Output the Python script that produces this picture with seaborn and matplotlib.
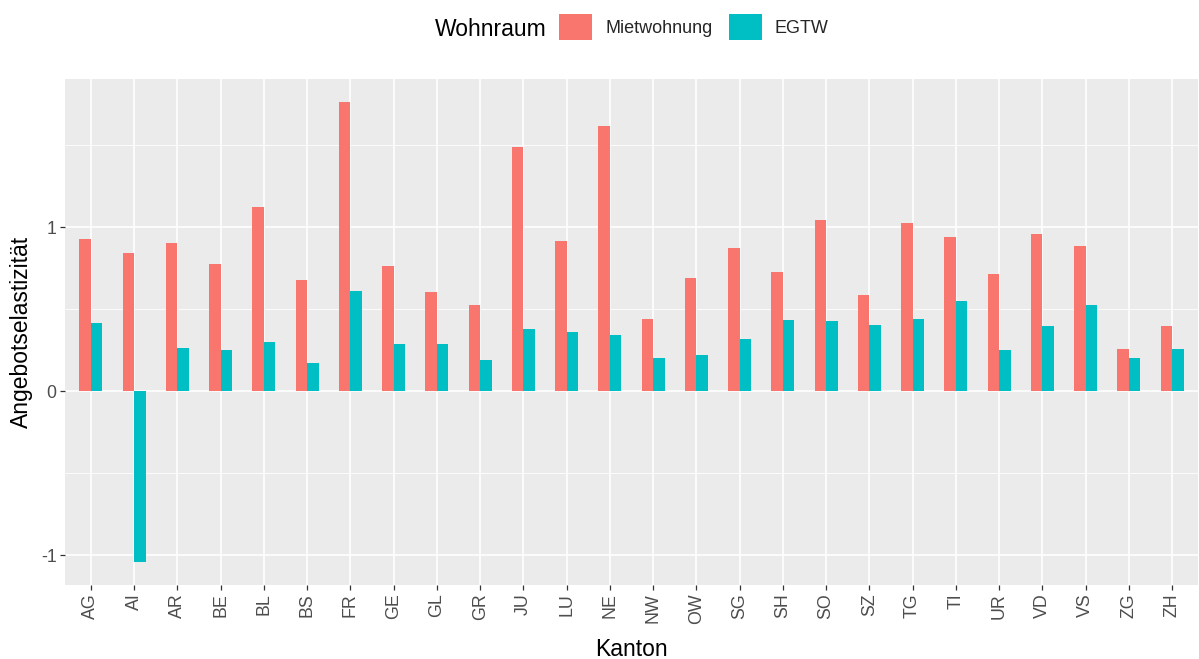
import matplotlib
matplotlib.use("Agg")
import matplotlib.pyplot as plt
from matplotlib.ticker import FixedLocator
from matplotlib.patches import Patch
import seaborn as sns
import pandas as pd

kantone = ["AG", "AI", "AR", "BE", "BL", "BS", "FR", "GE", "GL", "GR", "JU", "LU", "NE",
           "NW", "OW", "SG", "SH", "SO", "SZ", "TG", "TI", "UR", "VD", "VS", "ZG", "ZH"]
miet = [0.928, 0.843, 0.905, 0.780, 1.127, 0.682, 1.765, 0.765, 0.605, 0.527, 1.489, 0.920, 1.619,
        0.442, 0.690, 0.873, 0.727, 1.044, 0.588, 1.027, 0.942, 0.718, 0.958, 0.889, 0.259, 0.397]
egtw = [0.420, -1.040, 0.267, 0.251, 0.304, 0.174, 0.613, 0.290, 0.290, 0.190, 0.381, 0.365, 0.343,
        0.204, 0.220, 0.320, 0.436, 0.428, 0.405, 0.442, 0.550, 0.251, 0.397, 0.527, 0.204, 0.259]
serien = ["Mietwohnung", "EGTW"]
farben = ["#F8766D", "#00BFC4"]

df = pd.DataFrame({
    "Kanton": kantone * 2,
    "Wohnraum": [serien[0]] * len(kantone) + [serien[1]] * len(kantone),
    "Wert": miet + egtw,
})

sns.set_theme(style="darkgrid")
plt.rcParams["font.family"] = ["Liberation Sans", "DejaVu Sans"]

W, H = 1199, 659
fig = plt.figure(figsize=(W / 100, H / 100), dpi=100)
left, right, top, bottom = 65, 1198, 79, 585
ax = fig.add_axes([left / W, 1 - bottom / H, (right - left) / W, (bottom - top) / H])

sns.barplot(data=df, x="Kanton", y="Wert", hue="Wohnraum", order=kantone,
            hue_order=serien, palette=farben, width=0.53, gap=0, dodge=True,
            errorbar=None, saturation=1, ax=ax, legend=False, linewidth=0)

ax.set_facecolor("#EBEBEB")
for s in ax.spines.values():
    s.set_visible(False)
ax.set_xlim(-0.6, len(kantone) - 0.4)
ax.set_ylim(-1.18, 1.905)
ax.yaxis.set_major_locator(FixedLocator([-1, 0, 1]))
ax.yaxis.set_minor_locator(FixedLocator([-0.5, 0.5, 1.5]))
ax.set_yticklabels(["-1", "0", "1"])
ax.grid(which="major", color="white", linewidth=1.2)
ax.grid(which="minor", axis="y", color="white", linewidth=0.6)
ax.set_axisbelow(True)
ax.tick_params(axis="both", which="major", length=3.5, width=0.9, color="#333333",
               labelsize=12.8, labelcolor="#4D4D4D", pad=2.5, left=True, bottom=True)
ax.tick_params(axis="y", which="minor", length=0)
plt.setp(ax.get_xticklabels(), rotation=90, va="top", ha="center")
ax.set_xlabel("Kanton", fontsize=16.5, color="black", labelpad=10)
ax.set_ylabel("Angebotselastizität", fontsize=16.5, color="black", labelpad=6)

fig.text(435 / W, 1 - 29 / H, "Wohnraum", fontsize=16.5, ha="left", va="center", color="black")
handles = [Patch(facecolor=c, edgecolor="none") for c in farben]
fig.legend(handles, serien, loc="center left", bbox_to_anchor=(559 / W, 1 - 27 / H),
           ncol=2, frameon=False, fontsize=13, handlelength=1.85, handleheight=1.85,
           handletextpad=0.7, columnspacing=0.9, borderpad=0, borderaxespad=0)

fig.savefig("out.png", dpi=100)
